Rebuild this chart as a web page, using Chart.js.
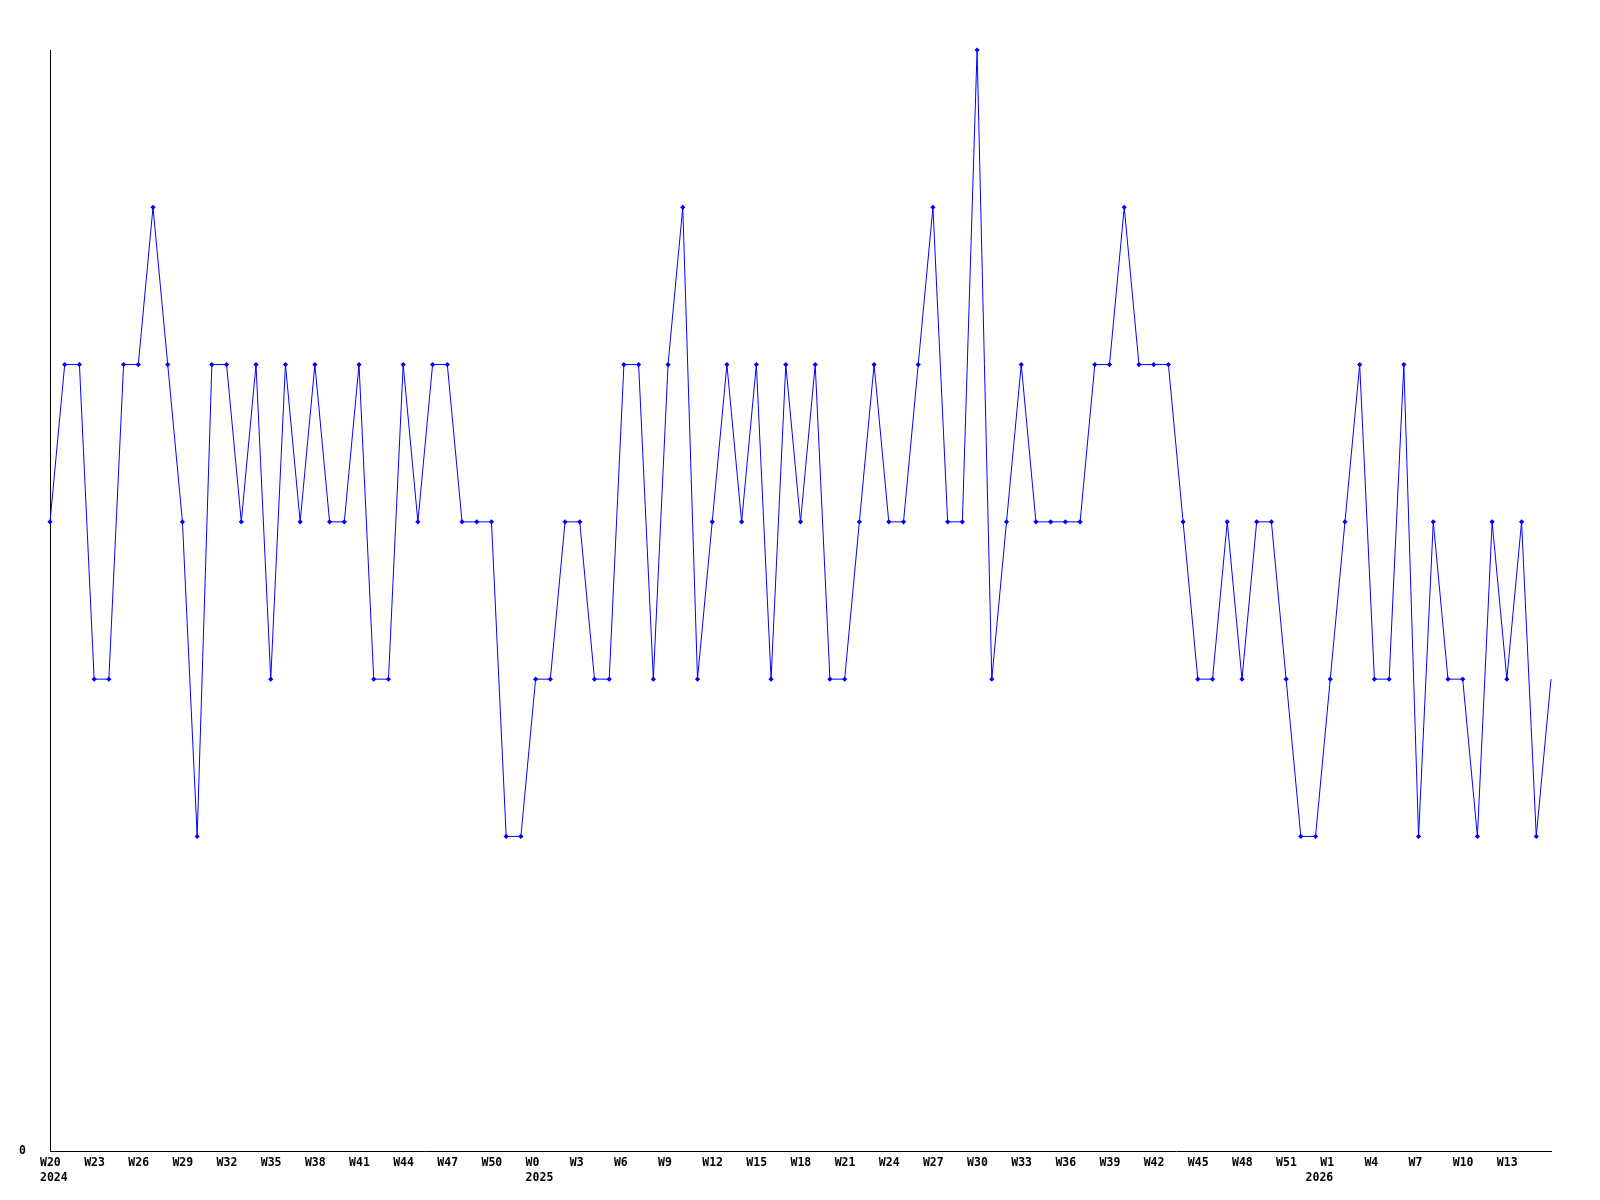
<!DOCTYPE html>
<html>
<head>
<meta charset="utf-8">
<script src="https://cdn.jsdelivr.net/npm/chart.js@4/dist/chart.umd.min.js"></script>
<style>
  html, body { margin: 0; padding: 0; background: #ffffff; }
  #c { display: block; }
</style>
</head>
<body>
<canvas id="c" width="1600" height="1200"></canvas>
<script>
// Week segments: [year, firstWeek, lastWeek]
const weekSegments = [[2024, 20, 52], [2025, 0, 52], [2026, 0, 16]];

// Categories (one per week)
const categories = [];
weekSegments.forEach(([yr, a, b]) => { for (let w = a; w <= b; w++) categories.push({ year: yr, week: w }); });

// Series values (one per week)
const values = [
  4, 5, 5, 3, 3, 5, 5, 6, 5, 4,
  2, 5, 5, 4, 5, 3, 5, 4, 5, 4,
  4, 5, 3, 3, 5, 4, 5, 5, 4, 4,
  4, 2, 2, 3, 3, 4, 4, 3, 3, 5,
  5, 3, 5, 6, 3, 4, 5, 4, 5, 3,
  5, 4, 5, 3, 3, 4, 5, 4, 4, 5,
  6, 4, 4, 7, 3, 4, 5, 4, 4, 4,
  4, 5, 5, 6, 5, 5, 5, 4, 3, 3,
  4, 3, 4, 4, 3, 2, 2, 3, 4, 5,
  3, 3, 5, 2, 4, 3, 3, 2, 4, 3,
  4, 2, 3
];

// Tick labels: every 3rd week; the year goes under the first week of each year
const tickStep = 3;
const yTickLabels = ['0'];

const labels = categories.map(c => c.year + '-W' + c.week);

function tickLabel(i) {
  const c = categories[i];
  const firstOfYear = i === 0 || categories[i - 1].year !== c.year;
  const showWeek = i % tickStep === 0 && i < categories.length - 1;
  const wk = showWeek ? 'W' + c.week : '';
  if (firstOfYear) return [wk, String(c.year)];
  return wk;
}

const ctx = document.getElementById('c').getContext('2d');
new Chart(ctx, {
  type: 'line',
  data: {
    labels: labels,
    datasets: [{
      data: values,
      borderColor: '#0000ff',
      backgroundColor: '#0000ff',
      borderWidth: 1,
      tension: 0,
      fill: false,
      pointStyle: 'rectRot',
      pointRadius: (c) => c.dataIndex === values.length - 1 ? 0 : 2.6,
      pointBorderWidth: 0,
      pointBackgroundColor: '#0000ff',
      clip: false
    }]
  },
  options: {
    responsive: false,
    animation: false,
    devicePixelRatio: 1,
    layout: { padding: { left: 0, right: 49, top: 50, bottom: 0 } },
    plugins: { legend: { display: false }, tooltip: { enabled: false } },
    scales: {
      x: {
        type: 'category',
        offset: false,
        grid: { display: false, drawTicks: false },
        border: { display: true, color: '#000000', width: 1 },
        afterFit: (s) => { s.height = 49; },
        ticks: {
          autoSkip: false,
          maxRotation: 0,
          minRotation: 0,
          align: 'start',
          labelOffset: -10,
          padding: 5,
          color: '#000000',
          font: { family: '"DejaVu Sans Mono", monospace', size: 11.5, weight: 'bold', lineHeight: '15px' },
          callback: (v, i) => tickLabel(i)
        }
      },
      y: {
        min: 0,
        max: 7,
        grid: { display: false, drawTicks: false },
        border: { display: true, color: '#000000', width: 1 },
        afterFit: (s) => { s.width = 50; },
        afterBuildTicks: (s) => { s.ticks = [{ value: 0 }]; },
        ticks: {
          padding: 24,
          color: '#000000',
          font: { family: '"DejaVu Sans Mono", monospace', size: 11.5, weight: 'bold' },
          callback: (v, i) => yTickLabels[i]
        }
      }
    }
  }
});
</script>
</body>
</html>
